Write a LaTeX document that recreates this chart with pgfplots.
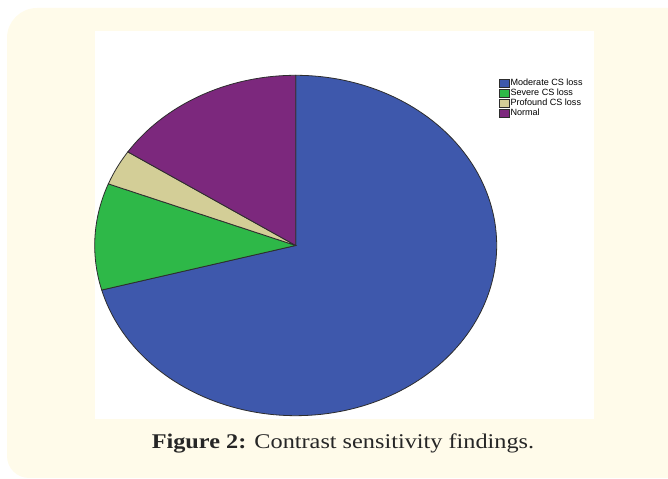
\documentclass[border=0pt]{standalone}
\usepackage{pgfplots}
\pgfplotsset{compat=1.18}
\usepackage{pgfplotstable}
\usepackage{graphicx}
\usepackage{fontspec}
\setmainfont{Liberation Serif}
\newfontfamily\legfont{Liberation Sans}
\definecolor{cream}{RGB}{255,251,234}
\definecolor{spssblue}{RGB}{62,88,172}
\definecolor{spssgreen}{RGB}{46,184,72}
\definecolor{spssbeige}{RGB}{211,206,151}
\definecolor{spsspurple}{RGB}{124,40,125}
\definecolor{edge}{RGB}{45,45,45}
% counts of each category
\pgfplotstableread{
label    count
Moderate 63
Severe   9
Profound 3
Normal   14
}\csdata
\begin{document}
\begin{tikzpicture}[x=1bp,y=1bp]
\useasboundingbox (0,0) rectangle (668,479);
\begin{scope}
\clip (0,0) rectangle (668,479);
\fill[cream] (700,1) -- (29,1) arc[start angle=270,end angle=180,radius=22] -- (7,441) arc[start angle=180,end angle=90,radius=30] -- (700,471) -- cycle;
\end{scope}
\fill[white] (95,60) rectangle (594,448);
\pgfplotstablegetelem{0}{count}\of\csdata \let\cA\pgfplotsretval
\pgfplotstablegetelem{1}{count}\of\csdata \let\cB\pgfplotsretval
\pgfplotstablegetelem{2}{count}\of\csdata \let\cC\pgfplotsretval
\pgfplotstablegetelem{3}{count}\of\csdata \let\cD\pgfplotsretval
\pgfmathsetmacro\N{\cA+\cB+\cC+\cD}
\pgfmathsetmacro\aA{90}
\pgfmathsetmacro\aB{\aA-360*(\cA/\N)}
\pgfmathsetmacro\aC{\aB-360*(\cB/\N)}
\pgfmathsetmacro\aD{\aC-360*(\cC/\N)}
\pgfmathsetmacro\aE{\aD-360*(\cD/\N)}
\begin{axis}[
  at={(94.7bp,63.3bp)}, anchor=south west,
  scale only axis, width=402bp, height=340.4bp,
  xmin=-1, xmax=1, ymin=-1, ymax=1,
  hide axis, clip=false,
  legend cell align=left,
  legend image code/.code={\draw[#1,draw=edge,line width=0.4bp] (0bp,-4bp) rectangle (10bp,4bp);},
  legend style={draw=none, fill=none, inner sep=0pt, outer sep=0pt,
    at={(axis description cs:1.0065,0.99)}, anchor=north west,
    row sep=0.2bp,
    font=\legfont\fontsize{9.1}{9}\selectfont,
    nodes={inner sep=0.8bp, text height=6.4bp, text depth=1.6bp},
    /tikz/every even column/.append style={column sep=0pt}},
]
\addplot[fill=spssblue, draw=edge, line width=0.8bp, domain=\aB:\aA, samples=150, variable=\t] ({cos(t)},{sin(t)}) -- (axis cs:0,0) -- cycle;
\addlegendentry{Moderate CS loss}
\addplot[fill=spssgreen, draw=edge, line width=0.8bp, domain=\aC:\aB, samples=40, variable=\t] ({cos(t)},{sin(t)}) -- (axis cs:0,0) -- cycle;
\addlegendentry{Severe CS loss}
\addplot[fill=spssbeige, draw=edge, line width=0.8bp, domain=\aD:\aC, samples=20, variable=\t] ({cos(t)},{sin(t)}) -- (axis cs:0,0) -- cycle;
\addlegendentry{Profound CS loss}
\addplot[fill=spsspurple, draw=edge, line width=0.8bp, domain=\aE:\aD, samples=50, variable=\t] ({cos(t)},{sin(t)}) -- (axis cs:0,0) -- cycle;
\addlegendentry{Normal}
\end{axis}
\node[anchor=base, inner sep=0pt, text=black!85] at (343,30) {\fontsize{21}{25}\selectfont\scalebox{1.16}[1]{\textbf{Figure 2:} Contrast sensitivity findings.}};
\end{tikzpicture}
\end{document}
